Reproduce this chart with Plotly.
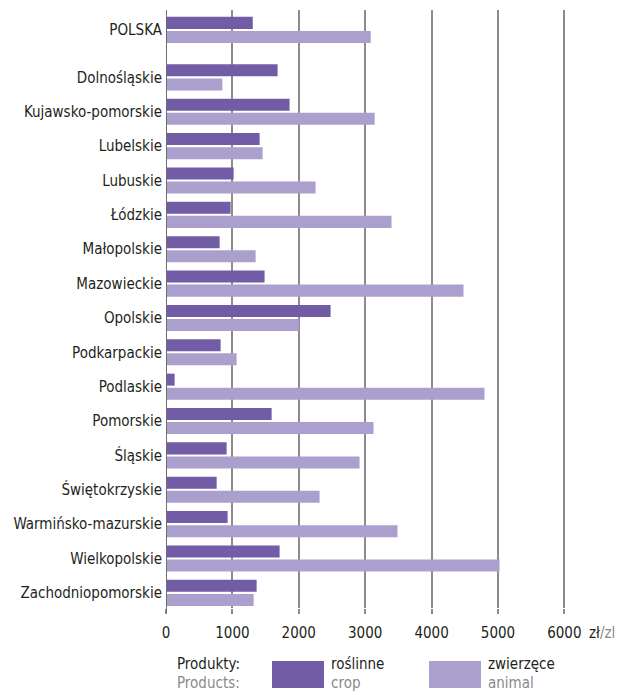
import plotly.graph_objects as go

regions = ["POLSKA", "Dolnośląskie", "Kujawsko-pomorskie", "Lubelskie", "Lubuskie", "Łódzkie",
           "Małopolskie", "Mazowieckie", "Opolskie", "Podkarpackie", "Podlaskie", "Pomorskie",
           "Śląskie", "Świętokrzyskie", "Warmińsko-mazurskie", "Wielkopolskie", "Zachodniopomorskie"]
crop = [1307, 1681, 1861, 1410, 1019, 973, 808, 1485, 2479, 823, 130, 1591, 913, 763, 928, 1711, 1365]
animal = [3084, 849, 3143, 1455, 2253, 3397, 1350, 4481, 2002, 1064, 4797, 3126, 2915, 2313, 3487, 5023, 1320]
x_ticks = [0, 1000, 2000, 3000, 4000, 5000, 6000]

C_CROP = "#725ca5"
C_ANIMAL = "#aba0cd"
DARK = "#231f20"
GRAY = "#8a8a8a"
GRID = "#8c8c8c"
FONT = "DejaVu Sans Condensed, DejaVu Sans, sans-serif"
FS = 15

# vertical positions: national total separated by an extra gap
ypos = [-1.38] + list(range(len(regions) - 1))

W, H = 626, 695
L, R, T, B = 166, 55, 10, 87
PW, PH = W - L - R, H - T - B

def px(x):
    return (x - L) / PW

def py(y):
    return 1 - (y - T) / PH

fig = go.Figure()
fig.add_trace(go.Bar(y=ypos, x=crop, orientation="h", width=0.35, offset=-0.38,
                     marker=dict(color=C_CROP, line=dict(width=0)), name="roślinne"))
fig.add_trace(go.Bar(y=ypos, x=animal, orientation="h", width=0.35, offset=0.03,
                     marker=dict(color=C_ANIMAL, line=dict(width=0)), name="zwierzęce"))

fig.update_layout(
    width=W, height=H, margin=dict(l=L, r=R, t=T, b=B),
    paper_bgcolor="white", plot_bgcolor="white",
    barmode="overlay", showlegend=False,
    font=dict(family=FONT, color=DARK, size=FS),
    xaxis=dict(range=[0, 6100], tickvals=x_ticks, ticktext=[str(v) for v in x_ticks],
               showgrid=True, gridcolor=GRID, gridwidth=1.5, zeroline=False,
               showline=False, ticks="outside", ticklen=5, tickcolor=GRID, tickwidth=1.5,
               ticklabelstandoff=6, tickfont=dict(size=FS, color=DARK)),
    yaxis=dict(range=[15.44, -1.96], tickvals=ypos, ticktext=regions,
               showgrid=False, zeroline=False, showline=False, ticks="",
               ticklabelstandoff=3, tickfont=dict(size=FS, color=DARK)),
    shapes=[
        dict(type="line", xref="x", yref="paper", x0=0, x1=0, y0=-5 / PH, y1=1,
             line=dict(color="#6e6e6e", width=2)),
        dict(type="rect", xref="paper", yref="paper", x0=px(272), x1=px(324), y0=py(688), y1=py(661),
             fillcolor=C_CROP, line=dict(width=0)),
        dict(type="rect", xref="paper", yref="paper", x0=px(429), x1=px(481), y0=py(688), y1=py(661),
             fillcolor=C_ANIMAL, line=dict(width=0)),
    ],
    annotations=[
        dict(xref="x", yref="paper", x=6000, y=0, xanchor="left", yanchor="middle", xshift=23, yshift=-25,
             showarrow=False, text=f"zł<span style='color:{GRAY}'>/zl</span>", font=dict(size=FS, color=DARK)),
        dict(xref="paper", yref="paper", x=px(175), y=py(664), xanchor="left", yanchor="middle",
             showarrow=False, text="Produkty:", font=dict(size=FS, color=DARK)),
        dict(xref="paper", yref="paper", x=px(175), y=py(683), xanchor="left", yanchor="middle",
             showarrow=False, text="Products:", font=dict(size=FS, color=GRAY)),
        dict(xref="paper", yref="paper", x=px(329), y=py(664), xanchor="left", yanchor="middle",
             showarrow=False, text="roślinne", font=dict(size=FS, color=DARK)),
        dict(xref="paper", yref="paper", x=px(329), y=py(683), xanchor="left", yanchor="middle",
             showarrow=False, text="crop", font=dict(size=FS, color=GRAY)),
        dict(xref="paper", yref="paper", x=px(486), y=py(664), xanchor="left", yanchor="middle",
             showarrow=False, text="zwierzęce", font=dict(size=FS, color=DARK)),
        dict(xref="paper", yref="paper", x=px(486), y=py(683), xanchor="left", yanchor="middle",
             showarrow=False, text="animal", font=dict(size=FS, color=GRAY)),
    ],
)

fig.write_html("out.html", config={"displayModeBar": False},
               post_script="document.body.style.margin='0';document.body.style.overflow='hidden';")
